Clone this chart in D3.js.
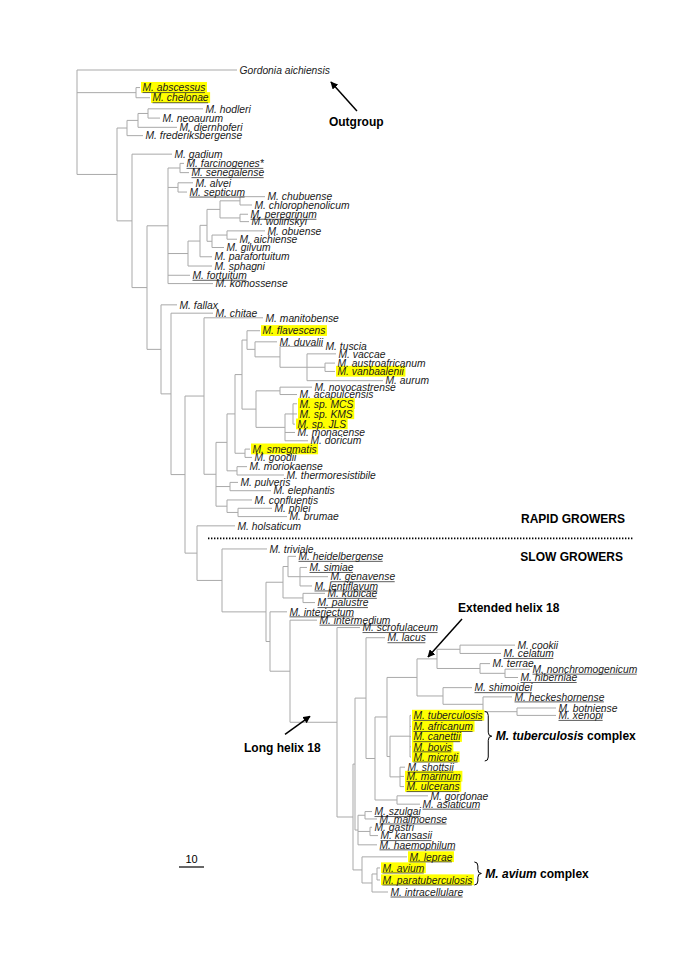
<!DOCTYPE html>
<html><head><meta charset="utf-8">
<script src="https://cdn.jsdelivr.net/npm/d3@7"></script>
<style>body{margin:0;background:#fff}svg{display:block}</style>
</head><body><svg id="c" width="685" height="969"></svg>
<script>
// ---------- DATA ----------
// [node, parent, branch length]
const branches = [
 ["root",null,0],
 ["Gordonia aichiensis","root",64.0],
 ["n_ac","root",23.6],["M. abscessus","n_ac",1.6],["M. chelonae","n_ac",5.6],
 ["n1","root",16.0],["n_hod","n1",4.0],["n_hd","n_hod",4.4],["n_hn","n_hd",4.0],
 ["M. hodleri","n_hn",22.0],["M. neoaurum","n_hn",4.8],["M. diernhoferi","n_hd",15.6],["M. frederiksbergense","n_hod",6.4],
 ["n2","n1",6.0],["M. gadium","n2",16.0],["n3","n2",6.0],["n4","n3",8.4],
 ["n_fs","n4",4.8],["M. farcinogenes*","n_fs",1.6],["M. senegalense","n_fs",3.6],
 ["n_as","n4",4.0],["M. alvei","n_as",6.0],["M. septicum","n_as",3.6],
 ["n5","n4",8.0],["n6","n5",4.8],["n7","n6",2.8],["n_ccpw","n7",5.2],
 ["n_cc","n_ccpw",8.0],["M. chubuense","n_cc",10.0],["M. chlorophenolicum","n_cc",4.8],
 ["n_pw","n_ccpw",8.0],["M. peregrinum","n_pw",3.2],["M. wolinskyi","n_pw",3.6],
 ["n_oag","n7",2.0],["n_oa","n_oag",6.0],["M. obuense","n_oa",15.2],["M. aichiense","n_oa",4.0],["M. gilvum","n_oag",4.8],
 ["M. parafortuitum","n6",4.8],["M. sphagni","n5",9.6],["M. fortuitum","n4",8.8],["M. komossense","n4",18.0],
 ["n8","n3",5.6],["M. fallax","n8",6.4],["n9","n8",4.0],["M. chitae","n9",16.8],
 ["n11","n9",5.6],["n_mg","n11",7.6],["M. manitobense","n_mg",23.6],["n_x","n_mg",4.8],
 ["n12","n_x",4.4],["n14","n12",3.2],["n15","n14",2.8],["n_fl","n15",2.0],["M. flavescens","n_fl",5.2],
 ["n_d","n_fl",3.2],["M. duvalii","n_d",8.8],["n_t","n_d",10.0],["M. tuscia","n_t",17.2],
 ["n_v","n_t",10.8],["M. vaccae","n_v",11.6],["n_av","n_v",7.2],["M. austroafricanum","n_av",4.0],["M. vanbaalenii","n_av",4.0],["M. aurum","n_v",30.4],
 ["n_mc","n15",5.6],["n_na","n_mc",9.6],["M. novocastrense","n_na",12.8],["M. acapulcensis","n_na",6.8],
 ["n_mj","n_mc",11.6],["n_mkj","n_mj",3.2],["M. sp. MCS","n_mkj",1.6],["M. sp. KMS","n_mkj",1.6],["M. sp. JLS","n_mkj",0.8],
 ["M. monacense","n_mj",4.0],["M. doricum","n_mj",9.2],
 ["n_sg","n14",4.0],["M. smegmatis","n_sg",2.0],["M. goodii","n_sg",2.8],
 ["n_mt","n12",4.0],["M. moriokaense","n_mt",4.0],["M. thermoresistibile","n_mt",18.8],
 ["n_pe","n_x",5.6],["M. pulveris","n_pe",3.2],["M. elephantis","n_pe",16.4],
 ["n_cpb","n_x",4.4],["M. confluentis","n_cpb",10.0],["n_pb","n_cpb",4.4],["M. phlei","n_pb",13.6],["M. brumae","n_pb",19.6],
 ["n_hs","n11",4.8],["M. holsaticum","n_hs",15.2],["n_slow","n_hs",10.0],["M. triviale","n_slow",18.0],
 ["s2","n_slow",17.6],["s3","s2",6.8],["s_hsgl","s3",2.0],["M. heidelbergense","s_hsgl",3.2],
 ["s_sgl","s_hsgl",4.8],["M. simiae","s_sgl",2.8],["M. genavense","s_sgl",11.2],["M. lentiflavum","s_sgl",4.8],
 ["s_kp","s3",8.0],["M. kubicae","s_kp",8.8],["M. palustre","s_kp",4.8],
 ["s4","s2",1.6],["M. interjectum","s4",6.8],["s5","s4",8.0],["M. intermedium","s5",10.8],
 ["s6","s5",18.8],["M. scrofulaceum","s6",9.2],["s7","s6",6.4],["u1","s7",0.8],
 ["u2","u1",4.4],["M. lacus","u2",7.6],["u4","u2",3.6],["u5","u4",4.8],
 ["ehb","u5",12.0],["eh","ehb",8.0],["eh_cc","eh",9.2],["M. cookii","eh_cc",22.0],["M. celatum","eh_cc",16.4],
 ["eh_tnh","eh",17.2],["M. terrae","eh_tnh",4.0],["eh_nh","eh_tnh",10.0],["M. nonchromogenicum","eh_nh",10.0],["M. hiberniae","eh_nh",5.2],
 ["shx","ehb",10.4],["M. shimoidei","shx",11.6],["hbx","shx",16.0],["M. heckeshornense","hbx",11.6],
 ["bx","hbx",13.6],["M. botniense","bx",15.6],["M. xenopi","bx",15.6],
 ["tbm","u5",1.2],["tbc","tbm",8.0],["M. tuberculosis","tbc",0.4],["M. africanum","tbc",0.4],["M. canettii","tbc",0.4],["M. bovis","tbc",0.4],["M. microti","tbc",0.4],
 ["msu","tbm",4.0],["M. shottsii","msu",2.0],["M. marinum","msu",1.6],["M. ulcerans","msu",1.6],
 ["ga","u4",8.8],["M. gordonae","ga",12.4],["M. asiaticum","ga",9.2],
 ["l2","u1",1.2],["sm","l2",2.8],["M. szulgai","sm",2.8],["M. malmoense","sm",4.8],
 ["gk","l2",4.8],["M. gastri","gk",0.8],["M. kansasii","gk",3.2],["M. haemophilum","l2",7.6],
 ["lmac","s7",3.6],["M. leprae","lmac",18.0],["mac","lmac",4.0],["ap","mac",2.0],
 ["M. avium","ap",1.2],["M. paratuberculosis","ap",1.2],["M. intracellulare","mac",6.4]
];

// leaf vertical order (slot positions, top to bottom)
const leafNames = ["Gordonia aichiensis","M. abscessus","M. chelonae","M. hodleri","M. neoaurum","M. diernhoferi","M. frederiksbergense",
 "M. gadium","M. farcinogenes*","M. senegalense","M. alvei","M. septicum","M. chubuense","M. chlorophenolicum","M. peregrinum","M. wolinskyi",
 "M. obuense","M. aichiense","M. gilvum","M. parafortuitum","M. sphagni","M. fortuitum","M. komossense",
 "M. fallax","M. chitae","M. manitobense","M. flavescens","M. duvalii","M. tuscia","M. vaccae","M. austroafricanum","M. vanbaalenii","M. aurum",
 "M. novocastrense","M. acapulcensis","M. sp. MCS","M. sp. KMS","M. sp. JLS","M. monacense","M. doricum","M. smegmatis","M. goodii",
 "M. moriokaense","M. thermoresistibile","M. pulveris","M. elephantis","M. confluentis","M. phlei","M. brumae","M. holsaticum",
 "M. triviale","M. heidelbergense","M. simiae","M. genavense","M. lentiflavum","M. kubicae","M. palustre","M. interjectum","M. intermedium",
 "M. scrofulaceum","M. lacus","M. cookii","M. celatum","M. terrae","M. nonchromogenicum","M. hiberniae","M. shimoidei","M. heckeshornense",
 "M. botniense","M. xenopi","M. tuberculosis","M. africanum","M. canettii","M. bovis","M. microti","M. shottsii","M. marinum","M. ulcerans",
 "M. gordonae","M. asiaticum","M. szulgai","M. malmoense","M. gastri","M. kansasii","M. haemophilum","M. leprae","M. avium",
 "M. paratuberculosis","M. intracellulare"];
const leafSlots = [0,1.9,3.0,4.2,5.2,6.2,7.1,
 9.1,10.1,11.1,12.2,13.2,13.7,14.6,15.6,16.4,
 17.4,18.3,19.2,20.2,21.2,22.2,23.1,
 25.4,26.3,26.8,28.2,29.4,29.9,30.7,31.7,32.6,33.6,
 34.3,35.1,36.1,37.2,38.3,39.2,40.1,41.0,41.9,
 42.9,43.8,44.6,45.5,46.5,47.4,48.3,49.3,
 51.8,52.6,53.8,54.8,55.8,56.6,57.6,58.6,59.5,
 60.3,61.4,62.2,63.1,64.2,64.8,65.7,66.8,67.8,
 69.0,69.8,69.8,71.0,72.1,73.2,74.3,75.4,76.4,77.5,
 78.5,79.4,80.2,81.0,81.9,82.8,83.8,85.1,86.3,
 87.6,88.9];

const highlighted = ["M. abscessus","M. chelonae","M. flavescens","M. vanbaalenii","M. sp. MCS","M. sp. KMS","M. sp. JLS","M. smegmatis",
 "M. tuberculosis","M. africanum","M. canettii","M. bovis","M. microti","M. marinum","M. ulcerans","M. leprae","M. avium","M. paratuberculosis"];
const underlined = ["M. abscessus","M. chelonae","M. farcinogenes*","M. senegalense","M. septicum","M. peregrinum","M. fortuitum",
 "M. heidelbergense","M. simiae","M. genavense","M. lentiflavum","M. kubicae","M. palustre","M. interjectum","M. intermedium","M. scrofulaceum",
 "M. lacus","M. celatum","M. nonchromogenicum","M. hiberniae","M. shimoidei","M. heckeshornense","M. xenopi",
 "M. tuberculosis","M. africanum","M. canettii","M. bovis","M. microti","M. shottsii","M. marinum","M. ulcerans","M. asiaticum",
 "M. szulgai","M. malmoense","M. kansasii","M. haemophilum","M. leprae","M. avium","M. paratuberculosis","M. intracellulare"];
const tbComplex = ["M. tuberculosis","M. africanum","M. canettii","M. bovis","M. microti"];
const avComplex = ["M. avium","M. paratuberculosis"];
const scaleBar = 10;

// ---------- LAYOUT ----------
const svg = d3.select("#c");
const W = 685, H = 969;
const xScale = d3.scaleLinear().domain([0,100]).range([77,327]);
const yScale = d3.scaleLinear().domain([0,88.9]).range([70,892]);
const FONT = "'Liberation Sans', Arial, Helvetica, sans-serif";
const LINE = "#a9a9a9";

const root = d3.stratify().id(d=>d[0]).parentId(d=>d[1])(branches);
root.eachBefore(n => { n.len = n.parent ? n.parent.len + n.data[2] : 0; });
const slotOf = new Map(leafNames.map((n,i)=>[n, leafSlots[i]]));
root.eachAfter(n => {
  if (!n.children) n.py = yScale(slotOf.get(n.id));
  else {
    const ys = n.children.map(c=>c.py);
    n.py = (d3.min(ys)+d3.max(ys))/2;
  }
  n.px = xScale(n.len);
});

const gTree = svg.append("g").attr("fill","none").attr("stroke",LINE).attr("stroke-width",1);
root.descendants().forEach(n => {
  if (n.parent) gTree.append("line").attr("x1",n.parent.px).attr("x2",n.px).attr("y1",n.py).attr("y2",n.py);
  if (n.children) {
    const ys = n.children.map(c=>c.py);
    gTree.append("line").attr("x1",n.px).attr("x2",n.px).attr("y1",d3.min(ys)).attr("y2",d3.max(ys));
  }
});

// labels
const gHi = svg.append("g");
const gLab = svg.append("g");
const labelEnd = new Map();
root.leaves().forEach(n => {
  const tx = n.px + 2.5;
  const t = gLab.append("text").attr("x",tx).attr("y",n.py).attr("dy","0.36em")
    .attr("font-family",FONT).attr("font-size","10.3px").attr("font-style","italic").attr("fill","#1a1a1a").text(n.id);
  const w = t.node().getComputedTextLength();
  labelEnd.set(n.id, tx + w);
  if (highlighted.includes(n.id)) {
    gHi.append("rect").attr("x",tx-1.5).attr("y",n.py-5.6).attr("width",w+3).attr("height",10.8).attr("fill","#ffff00");
  }
  if (underlined.includes(n.id)) {
    gLab.append("line").attr("x1",tx).attr("x2",tx+w-0.5).attr("y1",n.py+5).attr("y2",n.py+5)
      .attr("stroke","#333").attr("stroke-width",0.8);
  }
});
const node = id => root.find(n=>n.id===id);

// arrow marker
svg.append("defs").append("marker").attr("id","ah").attr("viewBox","0 0 10 10").attr("refX",9).attr("refY",5)
  .attr("markerWidth",5).attr("markerHeight",5).attr("orient","auto")
  .append("path").attr("d","M0,0 L10,5 L0,10 z").attr("fill","#000");

function bold(x,y,txt,anchor){
  return svg.append("text").attr("x",x).attr("y",y).attr("font-family",FONT).attr("font-weight","bold")
    .attr("font-size","12px").attr("fill","#000").attr("text-anchor",anchor||"start").text(txt);
}
function arrow(x1,y1,x2,y2){
  svg.append("line").attr("x1",x1).attr("y1",y1).attr("x2",x2).attr("y2",y2)
    .attr("stroke","#000").attr("stroke-width",1.5).attr("marker-end","url(#ah)");
}

// Outgroup
const gord = node("Gordonia aichiensis");
arrow(labelEnd.get(gord.id)+27, gord.py+41, labelEnd.get(gord.id)+1, gord.py+12);
bold(labelEnd.get(gord.id)-1, gord.py+56, "Outgroup");

// Rapid / slow divider
const yDiv = (node("M. holsaticum").py + node("M. triviale").py)/2;
svg.append("line").attr("x1",208).attr("x2",633).attr("y1",yDiv+1).attr("y2",yDiv+1)
  .attr("stroke","#000").attr("stroke-width",1.6).attr("stroke-dasharray","1.4,1.6");
bold(625, yDiv-14, "RAPID GROWERS", "end");
bold(623, yDiv+24, "SLOW GROWERS", "end");

// Extended helix 18
const eh = node("eh");
arrow(eh.px+25, eh.py-40, eh.px-9, eh.py-2);
bold(458, eh.py-47, "Extended helix 18");

// Long helix 18
const s6 = node("s6");
arrow(s6.px-52, s6.py+12, s6.px-27, s6.py-6);
bold(244, s6.py+30, "Long helix 18");

// braces
function brace(x, y1, y2, w){
  const m=(y1+y2)/2, r=Math.min(4,(y2-y1)/4), h=w/2;
  return `M${x},${y1} Q${x+h},${y1} ${x+h},${y1+r} L${x+h},${m-r} Q${x+h},${m} ${x+w},${m} Q${x+h},${m} ${x+h},${m+r} L${x+h},${y2-r} Q${x+h},${y2} ${x},${y2}`;
}
function complexLabel(members, yTop, yBot, name){
  const xb = d3.max(members, m=>labelEnd.get(m)) + 2;
  svg.append("path").attr("d",brace(xb, yTop, yBot, 7)).attr("fill","none").attr("stroke","#000").attr("stroke-width",1);
  const t = svg.append("text").attr("x",xb+11).attr("y",(yTop+yBot)/2+4.2).attr("font-family",FONT)
    .attr("font-size","12px").attr("font-weight","bold").attr("fill","#000");
  t.append("tspan").attr("font-style","italic").text(name);
  t.append("tspan").text(" complex");
}
complexLabel(tbComplex, node("M. tuberculosis").py-4, node("M. microti").py+4, "M. tuberculosis");
complexLabel(avComplex, node("M. avium").py-6, node("M. paratuberculosis").py+5, "M. avium");

// scale bar
const sbX = 179, sbY = 867;
svg.append("line").attr("x1",sbX).attr("x2",sbX + xScale(scaleBar)-xScale(0)).attr("y1",sbY).attr("y2",sbY)
  .attr("stroke","#000").attr("stroke-width",1.2);
svg.append("text").attr("x",sbX + (xScale(scaleBar)-xScale(0))/2).attr("y",sbY-4).attr("text-anchor","middle")
  .attr("font-family",FONT).attr("font-size","11px").attr("fill","#000").text(String(scaleBar));
</script></body></html>
